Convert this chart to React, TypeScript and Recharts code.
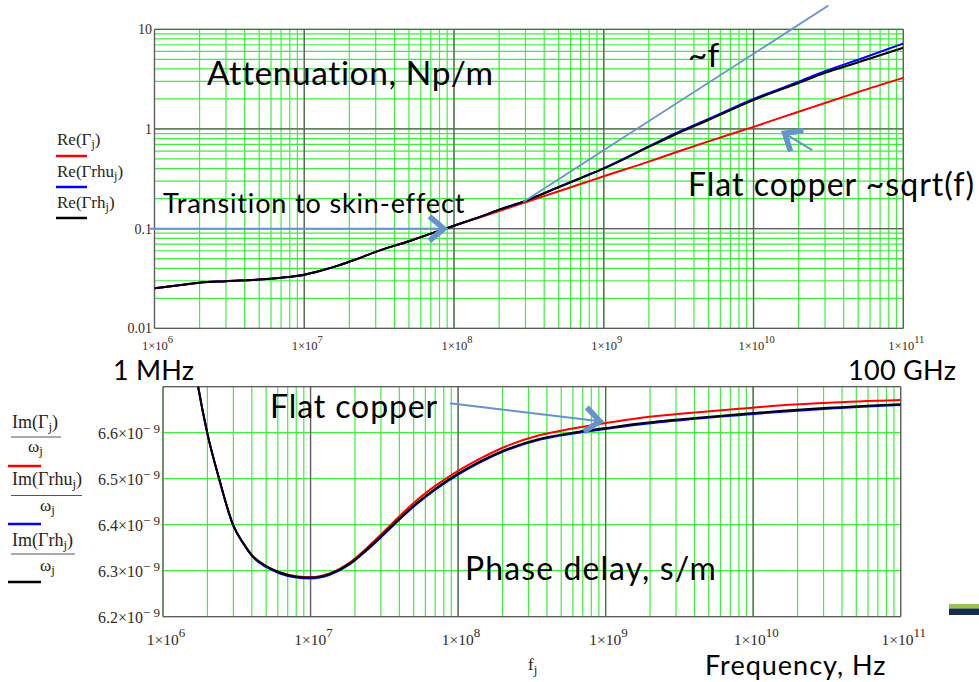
import { ComposedChart, Line, XAxis, YAxis, CartesianGrid, ReferenceLine } from 'recharts';

// ---- attenuation, Np/m ----
const freqAtt = [1e6, 1.5e6, 2e6, 3e6, 5e6, 7e6, 1e7, 1.3e7, 1.7e7, 2.2e7, 3e7, 5e7, 7e7, 1e8, 1.5e8, 2e8, 3e8, 5e8, 7e8, 1e9, 2e9, 3e9, 5e9, 1e10, 2e10, 3e10, 5e10, 1e11];
const attFlat = [0.0252, 0.0272, 0.0287, 0.0297, 0.0308, 0.0322, 0.0345, 0.038, 0.0428, 0.049, 0.0585, 0.0748, 0.089, 0.107, 0.13, 0.15, 0.184, 0.237, 0.28, 0.335, 0.47, 0.58, 0.75, 1.05, 1.49, 1.82, 2.35, 3.26];
const attRhu = [0.0252, 0.0272, 0.0287, 0.0297, 0.0308, 0.0322, 0.0345, 0.038, 0.0428, 0.049, 0.0585, 0.0748, 0.089, 0.107, 0.132, 0.155, 0.19, 0.262, 0.323, 0.405, 0.67, 0.9, 1.26, 2.0, 2.98, 3.8, 4.95, 7.2];
const attRh = [0.0252, 0.0272, 0.0287, 0.0297, 0.0308, 0.0322, 0.0345, 0.038, 0.0428, 0.049, 0.0585, 0.0748, 0.089, 0.107, 0.132, 0.155, 0.19, 0.26, 0.32, 0.4, 0.66, 0.88, 1.23, 1.95, 2.89, 3.65, 4.67, 6.52];

// ---- phase delay, in 1e-9 s/m ----
const freqPh = [1.5e6, 1.73e6, 2e6, 2.4e6, 3e6, 3.5e6, 4e6, 5e6, 6.2e6, 8e6, 1e7, 1.35e7, 1.85e7, 2.4e7, 3.1e7, 3.85e7, 5.2e7, 7.2e7, 1e8, 1.4e8, 2.1e8, 3.6e8, 6e8, 1e9, 1.7e9, 3.7e9, 8e9, 1.5e10, 3.2e10, 1e11];
const phFlat = [6.83, 6.7, 6.598, 6.5, 6.398, 6.36, 6.334, 6.31, 6.296, 6.288, 6.286, 6.294, 6.318, 6.349, 6.383, 6.413, 6.452, 6.487, 6.517, 6.543, 6.57, 6.595, 6.609, 6.621, 6.632, 6.643, 6.652, 6.659, 6.665, 6.671];
const phRhu = [6.83, 6.7, 6.598, 6.5, 6.397, 6.359, 6.332, 6.308, 6.294, 6.285, 6.283, 6.291, 6.314, 6.344, 6.377, 6.406, 6.444, 6.479, 6.509, 6.535, 6.561, 6.585, 6.598, 6.608, 6.618, 6.629, 6.638, 6.645, 6.652, 6.66];
const phRh = [6.83, 6.7, 6.598, 6.5, 6.398, 6.36, 6.334, 6.31, 6.296, 6.287, 6.285, 6.293, 6.316, 6.346, 6.379, 6.408, 6.446, 6.481, 6.511, 6.537, 6.563, 6.587, 6.6, 6.61, 6.62, 6.631, 6.64, 6.647, 6.654, 6.662];

// axis ticks
const freqDecades = [1e6, 1e7, 1e8, 1e9, 1e10, 1e11];
const attDecades = [0.01, 0.1, 1, 10];
const attTickText = ['0.01', '0.1', '1', '10'];
const phTicks = [6.2, 6.3, 6.4, 6.5, 6.6];
const phTickText = ['6.2', '6.3', '6.4', '6.5', '6.6'];

// ~f asymptote and annotation arrows (x in Hz)
const linearTrend = [{ x: 2.9e8, y: 0.185 }, { x: 3.16e10, y: 17.3 }];
const skinArrow = [{ x: 9.3e5, y: 0.1 }, { x: 8.96e7, y: 0.1 }];
const sqrtArrow = [{ x: 2.46e10, y: 0.614 }, { x: 1.55e10, y: 0.938 }];
const flatArrow = [{ x: 8.8e7, y: 6.664 }, { x: 9.57e8, y: 6.624 }];

const minorTicks = (lo: number, hi: number) => {
  const out: number[] = [];
  for (let d = lo; d < hi * 0.99; d *= 10) for (let m = 1; m < 10; m++) out.push(m * d);
  out.push(hi);
  return out;
};

const freqTicks = minorTicks(1e6, 1e11);
const attTicks = minorTicks(0.01, 10);

const attData = freqAtt.map((f, i) => ({ f, flat: attFlat[i], rhu: attRhu[i], rh: attRh[i] }));
const phData = freqPh.map((f, i) => ({ f, flat: phFlat[i], rhu: phRhu[i], rh: phRh[i] }));

const GREEN = '#3cf03c';
const DECADE = '#5c5c5c';
const ARROW = '#6594cc';
const TICK = '#33291f';
const serif = '"Liberation Serif", "Times New Roman", serif';
const sans = 'Lato, "Open Sans", sans-serif';

const isDecade = (v: number) => freqDecades.some((d) => Math.abs(v / d - 1) < 1e-9);

const freqTick = (size: number, sup: number, dy: number, raise: number) => (p: any) => {
  const v = p.payload.value;
  if (!isDecade(v)) return <g />;
  const exp = Math.round(Math.log10(v));
  return (
    <text x={p.x + 3} y={p.y + dy} textAnchor="middle" fontFamily={serif} fontSize={size} fill={TICK}>
      1×10<tspan dy={-raise} fontSize={sup}>{exp}</tspan>
    </text>
  );
};

const attTick = (p: any) => {
  const i = attDecades.findIndex((d) => Math.abs(p.payload.value / d - 1) < 1e-9);
  if (i < 0) return <g />;
  return (
    <text x={p.x + 5.5} y={p.y + 5} textAnchor="end" fontFamily={serif} fontSize={14} fill={TICK}>
      {attTickText[i]}
    </text>
  );
};

const phTick = (p: any) => {
  const i = phTicks.findIndex((d) => Math.abs(p.payload.value - d) < 1e-9);
  if (i < 0) return <g />;
  return (
    <text x={p.x + 5} y={p.y + 6.5} textAnchor="end" fontFamily={serif} fontSize={16} fill={TICK}>
      {phTickText[i]}×10<tspan dy={-6} fontSize={13}>− 9</tspan>
    </text>
  );
};

// thin shaft with a heavy open head
const arrowShape = (head: number) => (p: any) => {
  const { x1, y1, x2, y2 } = p;
  const ang = Math.atan2(y2 - y1, x2 - x1);
  const tx = x2 - 3 * Math.cos(ang);
  const ty = y2 - 3 * Math.sin(ang);
  const a1 = ang + Math.PI - 0.7;
  const a2 = ang + Math.PI + 0.7;
  const pts = `${tx + head * Math.cos(a1)},${ty + head * Math.sin(a1)} ${tx},${ty} ${tx + head * Math.cos(a2)},${ty + head * Math.sin(a2)}`;
  return (
    <g>
      <line x1={x1} y1={y1} x2={tx} y2={ty} stroke={ARROW} strokeWidth={2} />
      <polyline points={pts} fill="none" stroke={ARROW} strokeWidth={5.5} strokeLinejoin="miter" />
    </g>
  );
};

const series = [
  { key: 'flat', color: '#ff0000' },
  { key: 'rhu', color: '#0000ff' },
  { key: 'rh', color: '#000000' },
];

function AttenuationChart() {
  return (
    <ComposedChart width={979} height={360} data={attData} margin={{ top: 29.3, right: 75.7, bottom: 1.7, left: 94.5 }}>
      <CartesianGrid stroke={GREEN} strokeWidth={1.2} />
      <XAxis dataKey="f" type="number" scale="log" domain={[1e6, 1e11]} ticks={freqTicks} interval={0} height={30}
        axisLine={false} tickLine={false} tick={freqTick(12.5, 10.5, 14, 7)} allowDataOverflow />
      <YAxis type="number" scale="log" domain={[0.01, 10]} ticks={attTicks} interval={0} width={60}
        axisLine={false} tickLine={false} tick={attTick} allowDataOverflow />
      {freqDecades.map((v) => <ReferenceLine key={'x' + v} x={v} stroke={DECADE} strokeWidth={1.3} />)}
      {attDecades.map((v) => <ReferenceLine key={'y' + v} y={v} stroke={DECADE} strokeWidth={1.3} />)}
      {series.map((s) => (
        <Line key={s.key} dataKey={s.key} type="monotone" stroke={s.color} strokeWidth={2} dot={false} isAnimationActive={false} />
      ))}
      <ReferenceLine segment={linearTrend} stroke={ARROW} strokeWidth={1.8} ifOverflow="visible" />
      <ReferenceLine segment={skinArrow} ifOverflow="visible" shape={arrowShape(19)} />
      <ReferenceLine segment={sqrtArrow} ifOverflow="visible" shape={arrowShape(19)} />
    </ComposedChart>
  );
}

function PhaseChart() {
  return (
    <ComposedChart width={979} height={322} data={phData} margin={{ top: 26.7, right: 78.3, bottom: 25.3, left: 63 }}>
      <CartesianGrid stroke={GREEN} strokeWidth={1.2} />
      <XAxis dataKey="f" type="number" scale="log" domain={[1e6, 1e11]} ticks={freqTicks} interval={0} height={40}
        axisLine={false} tickLine={false} tick={freqTick(15.5, 13, 20.5, 8.5)} allowDataOverflow />
      <YAxis type="number" domain={[6.2, 6.7]} ticks={phTicks} interval={0} width={100}
        axisLine={false} tickLine={false} tick={phTick} allowDataOverflow />
      {freqDecades.map((v) => <ReferenceLine key={'x' + v} x={v} stroke={DECADE} strokeWidth={1.3} />)}
      <ReferenceLine y={6.2} stroke={DECADE} strokeWidth={1.3} />
      <ReferenceLine y={6.7} stroke={DECADE} strokeWidth={1.3} />
      {series.map((s) => (
        <Line key={s.key} dataKey={s.key} type="monotone" stroke={s.color} strokeWidth={2} dot={false} isAnimationActive={false} />
      ))}
      <ReferenceLine segment={flatArrow} ifOverflow="visible" shape={arrowShape(19)} />
    </ComposedChart>
  );
}

const big = { fontFamily: sans, fill: '#000' };
const math = { fontFamily: serif, fill: '#2a2320' };

function Annotations() {
  return (
    <svg width={979} height={682} style={{ position: 'absolute', left: 0, top: 0, pointerEvents: 'none' }}>
      <text x={207} y={85} fontSize={33.5} letterSpacing={0.6} {...big}>Attenuation, Np/m</text>
      <text x={688} y={67} fontSize={33.5} {...big}>~f</text>
      <text x={688} y={196} fontSize={32} letterSpacing={1} {...big}>Flat copper ~sqrt(f)</text>
      <text x={163} y={213} fontSize={27} letterSpacing={0.85} {...big}>Transition to skin-effect</text>
      <text x={113} y={380} fontSize={27} letterSpacing={0.2} {...big}>1 MHz</text>
      <text x={848} y={380} fontSize={27} letterSpacing={0.3} {...big}>100 GHz</text>
      <text x={270} y={418} fontSize={32} letterSpacing={0.9} {...big}>Flat copper</text>
      <text x={465} y={580} fontSize={32} letterSpacing={1.1} {...big}>Phase delay, s/m</text>
      <text x={705} y={675} fontSize={27} letterSpacing={1} {...big}>Frequency, Hz</text>

      {/* attenuation legend */}
      <text x={57} y={145} fontSize={17} {...math}>Re(Γ<tspan fontSize={12} dy={3}>j</tspan><tspan dy={-3}>)</tspan></text>
      <line x1={56} x2={87} y1={156} y2={156} stroke="#ff0000" strokeWidth={2.5} />
      <text x={57} y={177} fontSize={17} {...math}>Re(Γrhu<tspan fontSize={12} dy={3}>j</tspan><tspan dy={-3}>)</tspan></text>
      <line x1={56} x2={87} y1={187} y2={187} stroke="#0000ff" strokeWidth={2.5} />
      <text x={57} y={208} fontSize={17} {...math}>Re(Γrh<tspan fontSize={12} dy={3}>j</tspan><tspan dy={-3}>)</tspan></text>
      <line x1={56} x2={87} y1={218} y2={218} stroke="#000000" strokeWidth={2.5} />

      {/* phase legend */}
      <text x={12} y={428} fontSize={18} {...math}>Im(Γ<tspan fontSize={13} dy={3}>j</tspan><tspan dy={-3}>)</tspan></text>
      <line x1={11} x2={61} y1={437} y2={437} stroke="#555" strokeWidth={1} />
      <text x={28} y={452} fontSize={17} {...math}>ω<tspan fontSize={13} dy={3}>j</tspan></text>
      <line x1={8} x2={41} y1={466} y2={466} stroke="#ff0000" strokeWidth={2.5} />
      <text x={12} y={485} fontSize={18} {...math}>Im(Γrhu<tspan fontSize={13} dy={3}>j</tspan><tspan dy={-3}>)</tspan></text>
      <line x1={11} x2={82} y1={495.5} y2={495.5} stroke="#555" strokeWidth={1} />
      <text x={40} y={511} fontSize={17} {...math}>ω<tspan fontSize={13} dy={3}>j</tspan></text>
      <line x1={8} x2={41} y1={524} y2={524} stroke="#0000ff" strokeWidth={2.5} />
      <text x={12} y={546} fontSize={18} {...math}>Im(Γrh<tspan fontSize={13} dy={3}>j</tspan><tspan dy={-3}>)</tspan></text>
      <line x1={11} x2={75} y1={554} y2={554} stroke="#555" strokeWidth={1} />
      <text x={40} y={571} fontSize={17} {...math}>ω<tspan fontSize={13} dy={3}>j</tspan></text>
      <line x1={8} x2={41} y1={582} y2={582} stroke="#000000" strokeWidth={2.5} />

      <text x={528} y={670} fontSize={17} {...math}>f<tspan fontSize={13} dy={4}>j</tspan></text>

      <rect x={949} y={604} width={30} height={4.5} fill="#9ac24f" />
      <rect x={949} y={608.5} width={30} height={6.5} fill="#132b4c" />
    </svg>
  );
}

export default function App() {
  return (
    <div style={{ position: 'absolute', left: 0, top: 0, width: 979, height: 682, background: '#fff' }}>
      <div style={{ position: 'absolute', left: 0, top: 0 }}>
        <AttenuationChart />
      </div>
      <div style={{ position: 'absolute', left: 0, top: 360 }}>
        <PhaseChart />
      </div>
      <Annotations />
    </div>
  );
}
